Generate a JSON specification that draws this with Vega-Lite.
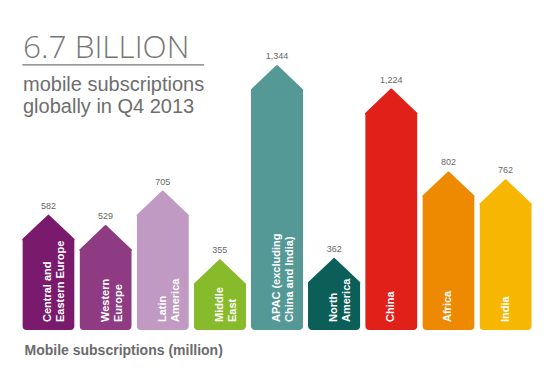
{
  "$schema": "https://vega.github.io/schema/vega-lite/v6.json",
  "width": 514,
  "height": 310,
  "autosize": {"type": "none"},
  "padding": {"left": 20, "top": 20, "right": 26, "bottom": 62},
  "background": "white",
  "title": {
    "text": "6.7 BILLION",
    "subtitle": ["mobile subscriptions", "globally in Q4 2013"],
    "anchor": "start",
    "frame": "group",
    "orient": "top",
    "offset": -97,
    "dx": 3,
    "font": "Open Sans",
    "fontWeight": 300,
    "fontSize": 31.5,
    "color": "#767676",
    "subtitleFont": "Liberation Sans",
    "subtitleFontSize": 20,
    "subtitleColor": "#6e6e6e",
    "subtitleLineHeight": 22,
    "subtitlePadding": 11
  },
  "data": {
    "values": [
      {"region": "Central and Eastern Europe", "label": "Central and\nEastern Europe", "value": 582},
      {"region": "Western Europe", "label": "Western\nEurope", "value": 529},
      {"region": "Latin America", "label": "Latin\nAmerica", "value": 705},
      {"region": "Middle East", "label": "Middle\nEast", "value": 355},
      {"region": "APAC (excluding China and India)", "label": "APAC (excluding\nChina and India)", "value": 1344},
      {"region": "North America", "label": "North\nAmerica", "value": 362},
      {"region": "China", "label": "China", "value": 1224},
      {"region": "Africa", "label": "Africa", "value": 802},
      {"region": "India", "label": "India", "value": 762}
    ]
  },
  "encoding": {
    "x": {
      "field": "region",
      "type": "nominal",
      "sort": null,
      "scale": {"paddingInner": 0.085, "paddingOuter": 0.04},
      "axis": {
        "labels": false,
        "ticks": false,
        "domain": false,
        "title": "Mobile subscriptions (million)",
        "titleAnchor": "start",
        "titleAlign": "left",
        "titleBaseline": "top",
        "titleFont": "Liberation Sans",
        "titleFontSize": 14,
        "titleFontWeight": "bold",
        "titleColor": "#6b6b6b",
        "titlePadding": 13,
        "titleX": 4
      }
    }
  },
  "layer": [
    {
      "mark": {"type": "bar", "yOffset": 23.5, "cornerRadiusBottomLeft": 4, "cornerRadiusBottomRight": 4},
      "encoding": {
        "y": {"field": "value", "type": "quantitative", "scale": {"domain": [0, 1578], "nice": false}, "axis": null},
        "color": {
          "field": "region", "type": "nominal", "legend": null,
          "scale": {
            "domain": ["Central and Eastern Europe", "Western Europe", "Latin America", "Middle East", "APAC (excluding China and India)", "North America", "China", "Africa", "India"],
            "range": ["#7a1a6c", "#8e3b84", "#c09ac3", "#88bb2c", "#559997", "#0c5e58", "#e1201a", "#ee8a02", "#f6b602"]
          }
        }
      }
    },
    {
      "mark": {"type": "point", "shape": "M-1,0.95L0,0L1,0.95Z", "size": 2530, "filled": true, "opacity": 1, "strokeWidth": 2, "strokeJoin": "round"},
      "encoding": {
        "y": {"field": "value", "type": "quantitative"},
        "color": {"field": "region", "type": "nominal", "legend": null},
        "stroke": {
          "field": "region", "type": "nominal", "legend": null,
          "scale": {
            "domain": ["Central and Eastern Europe", "Western Europe", "Latin America", "Middle East", "APAC (excluding China and India)", "North America", "China", "Africa", "India"],
            "range": ["#7a1a6c", "#8e3b84", "#c09ac3", "#88bb2c", "#559997", "#0c5e58", "#e1201a", "#ee8a02", "#f6b602"]
          }
        }
      }
    },
    {
      "mark": {"type": "text", "baseline": "middle", "yOffset": -10, "fontSize": 9, "font": "Liberation Sans", "color": "#666666"},
      "encoding": {
        "y": {"field": "value", "type": "quantitative"},
        "text": {"field": "value", "type": "quantitative", "format": ","}
      }
    },
    {
      "mark": {"type": "text", "angle": 270, "align": "left", "baseline": "middle", "yOffset": -8, "fontSize": 11, "fontWeight": "bold", "font": "Liberation Sans", "color": "white", "lineBreak": "\n", "lineHeight": 13},
      "encoding": {
        "y": {"datum": 0, "type": "quantitative"},
        "text": {"field": "label", "type": "nominal"}
      }
    },
    {
      "data": {"values": [{}]},
      "mark": {"type": "rule", "color": "#777777", "strokeWidth": 1.2},
      "encoding": {
        "x": {"datum": "Central and Eastern Europe", "bandPosition": 0},
        "x2": {"datum": "Middle East", "bandPosition": 0.2},
        "y": {"datum": 1350, "type": "quantitative"}
      }
    }
  ],
  "config": {
    "view": {"stroke": null},
    "font": "Liberation Sans"
  }
}
